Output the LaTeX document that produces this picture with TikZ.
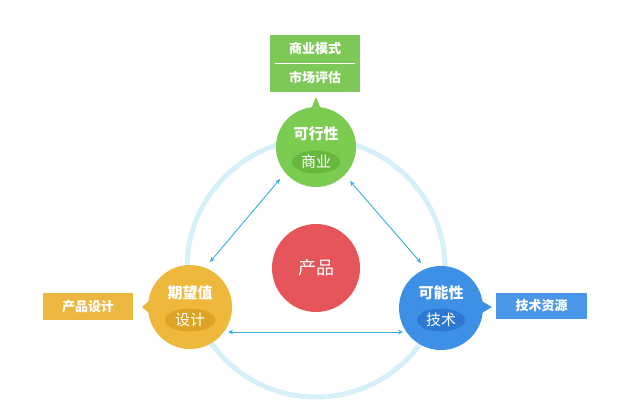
\documentclass[tikz,border=0pt]{standalone}
\usepackage{fontspec}
\newfontfamily\cjk{Noto Sans CJK SC}
\usetikzlibrary{arrows.meta,calc}
\definecolor{gC}{HTML}{7CCC52}
\definecolor{gI}{HTML}{68B83E}
\definecolor{gB}{HTML}{7DC857}
\definecolor{yC}{HTML}{EDB83B}
\definecolor{yI}{HTML}{DCA325}
\definecolor{yB}{HTML}{ECB740}
\definecolor{bC}{HTML}{3E8FE6}
\definecolor{bI}{HTML}{2C78D3}
\definecolor{bB}{HTML}{4A97E9}
\definecolor{rC}{HTML}{E6555A}
\definecolor{ringC}{HTML}{D6F0FA}
\definecolor{arrC}{HTML}{35B0DC}
\tikzset{
  disc/.style={circle,inner sep=0pt,minimum size=#1},
  titletxt/.style={text=white,font=\cjk\bfseries\fontsize{15}{15}\selectfont,inner sep=0pt},
  innerell/.style={ellipse,inner sep=0pt,minimum width=48,minimum height=23,text=white,font=\cjk\fontsize{15}{15}\selectfont},
  boxtxt/.style={text=white,font=\cjk\bfseries\fontsize{13}{13}\selectfont,inner sep=0pt},
  arr/.style={arrC,line width=0.9pt,{Stealth[length=5pt,width=4.5pt]}-{Stealth[length=5pt,width=4.5pt]}}
}
\usetikzlibrary{shapes.geometric}
\begin{document}
\begin{tikzpicture}[x=1pt,y=-1pt]
\useasboundingbox[fill=white] (0,0) rectangle (622,400);
% ring
\node[disc=258,draw=ringC,line width=5pt] (ring) at (316,268) {};
% boxes
\node[fill=gB,minimum width=90,minimum height=57,inner sep=0pt] (gbox) at (315,63.5) {};
\node[boxtxt] (gt1) at (315,49) {商业模式};
\node[boxtxt] (gt2) at (315,77) {市场评估};
\draw[white,line width=1pt] (275,63) -- (355,63);
\node[fill=yB,minimum width=90,minimum height=27,inner sep=0pt] (ybox) at (88,306.5) {};
\node[boxtxt] (ybt) at (88,306.5) {产品设计};
\node[fill=bB,minimum width=91,minimum height=26,inner sep=0pt] (bbox) at (541.5,306) {};
\node[boxtxt] (bbt) at (541.5,306) {技术资源};
% pointers
\fill[gC] (309,114) -- (316,97) -- (323,114) -- cycle;
\fill[yC] (151,299) -- (142,307) -- (151,315) -- cycle;
\fill[bC] (480,300) -- (492,307) -- (480,314) -- cycle;
% circles
\node[disc=80,fill=gC] (g) at (316,147) {};
\node[titletxt] (gtitle) at (316,134) {可行性};
\node[innerell,fill=gI] (gin) at (316,162) {商业};
\node[disc=84,fill=yC] (y) at (190,307) {};
\node[titletxt] (ytitle) at (190,293) {期望值};
\node[innerell,fill=yI,minimum width=50] (yin) at (190,320) {设计};
\node[disc=84,fill=bC] (b) at (441,308) {};
\node[titletxt] (btitle) at (441,293) {可能性};
\node[innerell,fill=bI] (bin) at (441,320) {技术};
\node[disc=88,fill=rC,text=white,font=\cjk\fontsize{18}{18}\selectfont] (r) at (316,268) {产品};
% arrows
\draw[arr] ($(g)+(-36,32)$) -- ($(y)+(20,-45)$);
\draw[arr] ($(g)+(34,34)$) -- ($(b)+(-20,-45)$);
\draw[arr] ($(y)+(38,25)$) -- ($(b)+(-38,24)$);
\end{tikzpicture}
\end{document}
